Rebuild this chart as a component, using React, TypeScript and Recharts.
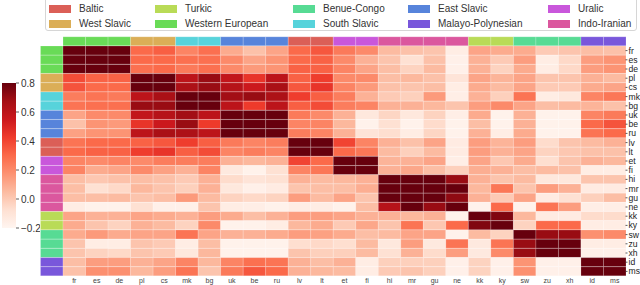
import React from 'react';
import { BarChart, Bar, XAxis, YAxis, Cell } from 'recharts';

const LANGS = ['fr', 'es', 'de', 'pl', 'cs', 'mk', 'bg', 'uk', 'be', 'ru', 'lv', 'lt', 'et', 'fi', 'hi', 'mr', 'gu', 'ne', 'kk', 'ky', 'sw', 'zu', 'xh', 'id', 'ms'];

const LANG_GROUP = [
  'Western European', 'Western European', 'Western European',
  'West Slavic', 'West Slavic',
  'South Slavic', 'South Slavic',
  'East Slavic', 'East Slavic', 'East Slavic',
  'Baltic', 'Baltic',
  'Uralic', 'Uralic',
  'Indo-Iranian', 'Indo-Iranian', 'Indo-Iranian', 'Indo-Iranian',
  'Turkic', 'Turkic',
  'Benue-Congo', 'Benue-Congo', 'Benue-Congo',
  'Malayo-Polynesian', 'Malayo-Polynesian',
];

const GROUPS = ['Baltic', 'West Slavic', 'Turkic', 'Western European', 'Benue-Congo', 'South Slavic', 'East Slavic', 'Malayo-Polynesian', 'Uralic', 'Indo-Iranian'];
const GROUP_COLORS = ['#db5f57', '#dbae57', '#b9db57', '#69db57', '#57db94', '#57d3db', '#5784db', '#7957db', '#c957db', '#db579e'];

const COLORBAR_TICKS = [-0.2, 0, 0.2, 0.4, 0.6, 0.8];
const VMIN = -0.2;
const VMAX = 0.8;

const VALUES: number[][] = [
  [0.9, 0.85, 0.85, 0.3, 0.33, 0.22, 0.28, 0.1, 0.03, 0.12, 0.3, 0.35, 0.25, 0.2, 0.05, 0.03, 0.02, -0.15, 0.12, 0.1, 0.1, 0.0, 0.02, 0.04, 0.03],
  [0.85, 0.9, 0.85, 0.3, 0.3, 0.28, 0.28, 0.2, 0.12, 0.17, 0.3, 0.32, 0.2, 0.08, 0.02, -0.08, 0.03, -0.17, 0.08, 0.0, 0.14, -0.15, -0.05, 0.14, 0.17],
  [0.85, 0.85, 0.9, 0.28, 0.3, 0.25, 0.28, 0.2, 0.15, 0.17, 0.32, 0.32, 0.22, 0.12, 0.04, -0.03, 0.05, -0.17, 0.08, -0.03, 0.1, -0.15, -0.05, 0.14, 0.17],
  [0.38, 0.32, 0.32, 0.9, 0.85, 0.6, 0.7, 0.58, 0.45, 0.6, 0.32, 0.42, 0.2, 0.2, 0.04, 0.06, 0.03, -0.1, 0.12, 0.07, 0.12, 0.02, 0.02, 0.08, 0.05],
  [0.36, 0.3, 0.3, 0.85, 0.9, 0.65, 0.7, 0.62, 0.55, 0.66, 0.35, 0.45, 0.22, 0.15, 0.03, 0.02, 0.04, -0.15, 0.1, 0.05, 0.12, 0.0, 0.0, 0.1, 0.12],
  [0.24, 0.27, 0.25, 0.6, 0.66, 0.9, 0.85, 0.68, 0.7, 0.65, 0.42, 0.33, 0.24, 0.08, 0.0, -0.02, 0.15, -0.16, 0.08, -0.02, 0.27, -0.15, -0.12, 0.22, 0.26],
  [0.27, 0.28, 0.28, 0.7, 0.7, 0.85, 0.9, 0.6, 0.43, 0.6, 0.33, 0.38, 0.24, 0.22, 0.08, 0.08, 0.06, 0.02, 0.14, 0.2, 0.12, 0.04, 0.05, 0.07, 0.03],
  [0.12, 0.2, 0.2, 0.58, 0.62, 0.68, 0.6, 0.9, 0.85, 0.85, 0.25, 0.2, 0.08, -0.12, -0.04, -0.12, -0.03, -0.16, 0.1, -0.18, 0.08, -0.18, -0.18, 0.22, 0.25],
  [0.03, 0.17, 0.15, 0.45, 0.55, 0.7, 0.43, 0.85, 0.9, 0.85, 0.22, 0.22, 0.06, -0.18, -0.08, -0.18, -0.06, -0.18, 0.04, -0.18, 0.08, -0.18, -0.18, 0.3, 0.36],
  [0.13, 0.17, 0.17, 0.6, 0.66, 0.65, 0.6, 0.85, 0.85, 0.9, 0.24, 0.22, 0.08, -0.1, -0.07, -0.15, -0.04, -0.18, 0.08, -0.15, 0.1, -0.18, -0.18, 0.27, 0.3],
  [0.27, 0.3, 0.3, 0.32, 0.35, 0.42, 0.33, 0.25, 0.22, 0.24, 0.9, 0.85, 0.4, 0.22, 0.08, 0.03, 0.12, -0.14, 0.14, 0.07, 0.14, -0.06, 0.02, 0.05, 0.08],
  [0.3, 0.32, 0.32, 0.42, 0.45, 0.33, 0.38, 0.22, 0.24, 0.22, 0.85, 0.9, 0.3, 0.26, 0.05, -0.02, 0.05, -0.14, 0.14, 0.08, 0.12, -0.03, 0.01, 0.03, 0.03],
  [0.22, 0.2, 0.22, 0.2, 0.24, 0.24, 0.24, 0.08, 0.06, 0.08, 0.4, 0.3, 0.9, 0.85, 0.07, 0.08, 0.12, -0.16, 0.12, 0.01, 0.1, -0.07, 0.02, 0.08, 0.06],
  [0.22, 0.1, 0.12, 0.2, 0.13, 0.08, 0.22, -0.13, -0.18, -0.08, 0.22, 0.26, 0.85, 0.9, 0.08, 0.11, 0.04, -0.02, 0.09, 0.08, 0.04, 0.05, 0.03, -0.15, -0.15],
  [0.04, 0.01, 0.03, 0.04, 0.03, 0.0, 0.08, -0.06, -0.1, -0.08, 0.08, 0.05, 0.06, 0.08, 0.9, 0.85, 0.85, 0.7, 0.08, 0.02, 0.05, -0.12, -0.12, 0.02, 0.02],
  [0.04, -0.08, -0.05, 0.06, 0.02, -0.02, 0.08, -0.12, -0.17, -0.14, 0.02, 0.04, 0.04, 0.09, 0.85, 0.9, 0.85, 0.82, 0.06, 0.26, 0.02, 0.14, 0.08, -0.14, -0.14],
  [0.04, 0.04, 0.05, 0.02, 0.04, 0.15, 0.05, -0.03, -0.05, -0.03, 0.14, 0.05, 0.12, 0.02, 0.85, 0.85, 0.9, 0.72, 0.08, 0.0, 0.12, -0.14, -0.08, -0.02, 0.04],
  [-0.15, -0.18, -0.18, -0.08, -0.17, -0.17, 0.02, -0.15, -0.16, -0.18, -0.15, -0.15, -0.18, 0.04, 0.62, 0.82, 0.7, 0.9, -0.18, 0.3, -0.18, 0.27, 0.14, -0.16, -0.16],
  [0.12, 0.08, 0.08, 0.12, 0.1, 0.08, 0.14, 0.1, 0.04, 0.08, 0.14, 0.14, 0.12, 0.08, 0.08, 0.06, 0.08, -0.18, 0.9, 0.75, 0.06, -0.14, -0.14, -0.06, -0.06],
  [0.1, 0.02, -0.03, 0.08, 0.05, -0.03, 0.2, -0.18, -0.18, -0.15, 0.06, 0.1, 0.0, 0.11, 0.02, 0.27, 0.01, 0.3, 0.75, 0.9, -0.03, 0.3, 0.3, -0.15, -0.15],
  [0.1, 0.15, 0.1, 0.12, 0.12, 0.27, 0.12, 0.08, 0.08, 0.1, 0.14, 0.13, 0.1, 0.04, 0.05, 0.12, 0.12, -0.18, 0.05, -0.03, 0.9, 0.7, 0.7, 0.18, 0.2],
  [0.02, -0.15, -0.15, 0.02, 0.0, -0.15, 0.04, -0.18, -0.18, -0.18, -0.07, -0.05, -0.07, 0.05, -0.12, 0.14, -0.13, 0.27, -0.13, 0.27, 0.7, 0.9, 0.85, -0.15, -0.15],
  [0.02, -0.03, -0.05, 0.02, 0.0, -0.12, 0.06, -0.18, -0.18, -0.18, 0.02, -0.02, -0.02, 0.05, -0.08, 0.08, -0.06, 0.14, -0.13, 0.2, 0.7, 0.85, 0.9, -0.17, -0.17],
  [0.04, 0.14, 0.14, 0.08, 0.12, 0.22, 0.06, 0.22, 0.28, 0.27, 0.08, 0.04, 0.08, -0.15, -0.02, -0.02, -0.02, -0.17, -0.03, -0.17, 0.17, -0.17, -0.17, 0.9, 0.85],
  [0.03, 0.18, 0.18, 0.06, 0.14, 0.27, 0.02, 0.25, 0.35, 0.3, 0.08, 0.06, 0.05, -0.15, 0.0, 0.02, -0.02, -0.17, -0.03, -0.17, 0.18, -0.17, -0.17, 0.85, 0.9],
];

const REDS = ['#fff5f0', '#fee0d2', '#fcbba1', '#fc9272', '#fb6a4a', '#ef3b2c', '#cb181d', '#a50f15', '#67000d'];

function hexToRgb(h: string) {
  return [parseInt(h.slice(1, 3), 16), parseInt(h.slice(3, 5), 16), parseInt(h.slice(5, 7), 16)];
}

function redsColor(v: number) {
  let t = (v - VMIN) / (VMAX - VMIN);
  t = Math.max(0, Math.min(1, t));
  const p = t * (REDS.length - 1);
  const i = Math.min(REDS.length - 2, Math.floor(p));
  const f = p - i;
  const a = hexToRgb(REDS[i]);
  const b = hexToRgb(REDS[i + 1]);
  const c = a.map((x, k) => Math.round(x + (b[k] - x) * f));
  return `rgb(${c[0]},${c[1]},${c[2]})`;
}

const groupColor = (g: string) => GROUP_COLORS[GROUPS.indexOf(g)];

const N = LANGS.length;
const KEYS = Array.from({ length: N + 1 }, (_, k) => `s${k}`);

const rows = [''].concat(LANGS).map((name) => {
  const o: Record<string, any> = { row: name };
  KEYS.forEach((k) => (o[k] = 1));
  return o;
});

const X_TICKS = LANGS.map((_, i) => i + 1.5);

function cellFill(ri: number, k: number) {
  if (ri === 0 && k === 0) return 'none';
  if (ri === 0) return groupColor(LANG_GROUP[k - 1]);
  if (k === 0) return groupColor(LANG_GROUP[ri - 1]);
  return redsColor(VALUES[ri - 1][k - 1]);
}

const FONT = '"Liberation Sans", Arial, sans-serif';

const RowTick = (props: any) => {
  const { x, y, payload } = props;
  if (!payload.value) return null;
  return (
    <g>
      <line x1={x - 3} x2={x - 1} y1={y} y2={y} stroke="#333" strokeWidth={0.8} />
      <text x={x} y={y} dy="0.34em" fontSize={8.6} fill="#222" textAnchor="start" fontFamily={FONT}>
        {payload.value}
      </text>
    </g>
  );
};

const fmtCb = (v: number) => {
  const s = v.toFixed(1);
  return v < 0 ? '\u2212' + s.slice(1) : s;
};

const LEGEND_COLS = [
  ['Baltic', 'West Slavic'],
  ['Turkic', 'Western European'],
  ['Benue-Congo', 'South Slavic'],
  ['East Slavic', 'Malayo-Polynesian'],
  ['Uralic', 'Indo-Iranian'],
];
const LEGEND_X = [49, 155, 293, 408, 548];
const LEGEND_Y = [9, 24];

export default function App() {
  return (
    <div style={{ position: 'absolute', left: 0, top: 0, width: 640, height: 285, background: '#fff', fontFamily: FONT, overflow: 'hidden' }}>
      <div style={{ position: 'absolute', left: 0, top: 0 }}>
        <BarChart
          width={640}
          height={285}
          data={rows}
          layout="vertical"
          margin={{ top: 36.8, left: 40.5, right: 0, bottom: 0 }}
          barCategoryGap={0}
          barGap={0}
        >
          <XAxis
            type="number"
            domain={[0, N + 1]}
            ticks={X_TICKS}
            interval={0}
            tickFormatter={(t: number) => LANGS[Math.round(t - 1.5)]}
            axisLine={false}
            tickLine={false}
            tickSize={0}
            tickMargin={2}
            height={9}
            tick={{ fontSize: 7, fill: '#444', fontFamily: FONT }}
          />
          <YAxis
            type="category"
            dataKey="row"
            orientation="right"
            width={14}
            interval={0}
            axisLine={false}
            tickLine={false}
            tickSize={2}
            tickMargin={0.5}
            tick={<RowTick />}
          />
          {KEYS.map((key, k) => (
            <Bar key={key} dataKey={key} stackId="a" isAnimationActive={false}>
              {rows.map((_, ri) => (
                <Cell
                  key={ri}
                  fill={cellFill(ri, k)}
                  stroke={ri === 0 && k === 0 ? 'none' : '#ffffff'}
                  strokeWidth={0.4}
                  strokeOpacity={0.45}
                />
              ))}
            </Bar>
          ))}
        </BarChart>
      </div>

      <div style={{ position: 'absolute', left: 0, top: 78 }}>
        <BarChart
          width={40}
          height={155}
          data={[{ name: 'cb', v: [VMIN, VMAX] }]}
          margin={{ top: 5, bottom: 5, left: 2, right: 0 }}
          barCategoryGap={0}
        >
          <defs>
            <linearGradient id="cbGrad" x1="0" y1="1" x2="0" y2="0">
              {REDS.map((c, i) => (
                <stop key={i} offset={`${(i / (REDS.length - 1)) * 100}%`} stopColor={c} />
              ))}
            </linearGradient>
          </defs>
          <XAxis dataKey="name" hide />
          <YAxis
            type="number"
            orientation="right"
            domain={[VMIN, VMAX]}
            ticks={COLORBAR_TICKS}
            interval={0}
            width={24}
            axisLine={false}
            tickSize={3}
            tickMargin={2}
            tickLine={{ stroke: '#333', strokeWidth: 0.8 }}
            tickFormatter={fmtCb}
            tick={{ fontSize: 10, fill: '#333', fontFamily: FONT }}
          />
          <Bar dataKey="v" fill="url(#cbGrad)" isAnimationActive={false} />
        </BarChart>
      </div>

      <div
        style={{
          position: 'absolute',
          left: 45,
          top: -4,
          width: 592,
          height: 35,
          border: '1px solid #d6d6d6',
          borderRadius: 3,
          background: '#fff',
          boxSizing: 'border-box',
        }}
      />
      {LEGEND_COLS.map((col, ci) =>
        col.map((name, ri) => (
          <div key={name} style={{ position: 'absolute', left: LEGEND_X[ci], top: LEGEND_Y[ri] - 6, height: 12, display: 'flex', alignItems: 'center', whiteSpace: 'nowrap' }}>
            <div style={{ width: 22, height: 8, background: groupColor(name), marginRight: 8 }} />
            <span style={{ fontSize: 10, color: '#333', lineHeight: '12px' }}>{name}</span>
          </div>
        ))
      )}
    </div>
  );
}
